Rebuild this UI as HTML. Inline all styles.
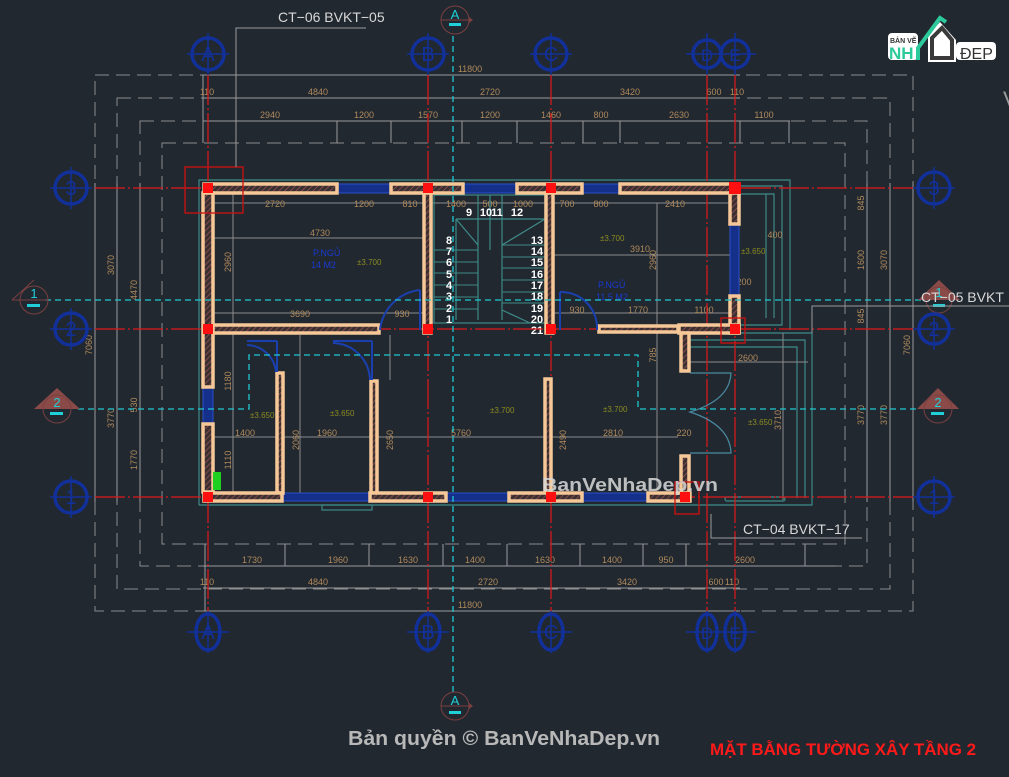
<!DOCTYPE html>
<html><head><meta charset="utf-8"><style>
html,body{margin:0;padding:0;background:#212830;}
svg{display:block}
.d{font-family:"Liberation Sans",sans-serif;font-size:9px;fill:#b08a5c;}
.bub{fill:none;stroke:#12309a;stroke-width:3.5}
.bt{font-family:"Liberation Sans",sans-serif;font-size:20px;fill:#12309a;text-anchor:middle}
.st{font-family:"Liberation Sans",sans-serif;font-size:11px;fill:#fff;font-weight:bold;text-anchor:middle}
</style></head><body>
<svg width="1009" height="777" viewBox="0 0 1009 777" xmlns="http://www.w3.org/2000/svg">
<defs>
<pattern id="h" width="4" height="4" patternUnits="userSpaceOnUse" patternTransform="rotate(45)">
<rect width="4" height="4" fill="#3a3034"/><line x1="0" y1="0" x2="0" y2="4" stroke="#b05a50" stroke-width="1.2"/>
</pattern>
</defs>
<rect width="1009" height="777" fill="#212830"/>

<g fill="none" stroke="#8a8a8a" stroke-width="1" stroke-dasharray="14,7">
<rect x="95" y="75" width="818" height="536"/>
<rect x="117" y="98" width="773" height="491"/>
<rect x="140" y="121" width="727" height="445"/>
<rect x="162" y="143" width="683" height="401"/>
</g>
<g stroke="#9a9a9a" stroke-width="1">
<line x1="203" y1="75" x2="740" y2="75"/><line x1="203" y1="98" x2="740" y2="98"/><line x1="203" y1="121" x2="790" y2="121"/>
<line x1="203" y1="611" x2="740" y2="611"/><line x1="203" y1="588" x2="740" y2="588"/><line x1="203" y1="566" x2="836" y2="566"/>
<line x1="95" y1="183" x2="95" y2="502"/><line x1="117" y1="183" x2="117" y2="502"/><line x1="140" y1="183" x2="140" y2="502"/>
<line x1="913" y1="183" x2="913" y2="502"/><line x1="890" y1="183" x2="890" y2="502"/><line x1="867" y1="183" x2="867" y2="502"/>
<line x1="203" y1="75" x2="203" y2="143"/><line x1="337" y1="121" x2="337" y2="143"/><line x1="391" y1="121" x2="391" y2="143"/><line x1="462" y1="121" x2="462" y2="143"/><line x1="517" y1="121" x2="517" y2="143"/><line x1="583" y1="121" x2="583" y2="143"/><line x1="620" y1="121" x2="620" y2="143"/><line x1="740" y1="121" x2="740" y2="143"/><line x1="789" y1="121" x2="789" y2="143"/>
<line x1="205" y1="544" x2="205" y2="611"/><line x1="285" y1="544" x2="285" y2="566"/><line x1="369" y1="544" x2="369" y2="566"/><line x1="443" y1="544" x2="443" y2="566"/><line x1="507" y1="544" x2="507" y2="566"/><line x1="580" y1="544" x2="580" y2="566"/><line x1="643" y1="544" x2="643" y2="566"/><line x1="686" y1="544" x2="686" y2="566"/><line x1="805" y1="544" x2="805" y2="566"/>
</g>
<g class="d" text-anchor="middle">
<text x="470" y="72">11800</text>
<text x="207" y="95">110</text><text x="318" y="95">4840</text><text x="490" y="95">2720</text><text x="630" y="95">3420</text><text x="714" y="95">600</text><text x="737" y="95">110</text>
<text x="270" y="118">2940</text><text x="364" y="118">1200</text><text x="428" y="118">1570</text><text x="490" y="118">1200</text><text x="551" y="118">1460</text><text x="601" y="118">800</text><text x="679" y="118">2630</text><text x="764" y="118">1100</text>
<text x="252" y="563">1730</text><text x="338" y="563">1960</text><text x="408" y="563">1630</text><text x="475" y="563">1400</text><text x="545" y="563">1630</text><text x="612" y="563">1400</text><text x="666" y="563">950</text><text x="745" y="563">2600</text>
<text x="207" y="585">110</text><text x="318" y="585">4840</text><text x="488" y="585">2720</text><text x="627" y="585">3420</text><text x="716" y="585">600</text><text x="732" y="585">110</text>
<text x="470" y="608">11800</text>
</g>
<g class="d" text-anchor="middle">
<text transform="translate(114,265) rotate(-90)">3070</text><text transform="translate(114,418) rotate(-90)">3770</text>
<text transform="translate(137,290) rotate(-90)">4470</text><text transform="translate(137,460) rotate(-90)">1770</text><text transform="translate(137,405) rotate(-90)">530</text>
<text transform="translate(92,345) rotate(-90)">7060</text>
<text transform="translate(864,203) rotate(-90)">845</text><text transform="translate(864,260) rotate(-90)">1600</text><text transform="translate(864,316) rotate(-90)">845</text><text transform="translate(864,415) rotate(-90)">3770</text>
<text transform="translate(887,260) rotate(-90)">3070</text><text transform="translate(887,415) rotate(-90)">3770</text><text transform="translate(910,345) rotate(-90)">7060</text>
</g>

<g fill="none" stroke="#3e8a88" stroke-width="1.2">
<polyline points="199,505 199,180 790,180 790,330"/>
<polyline points="740,186 782,186 782,325 740,325"/>
<polyline points="740,194 774,194 774,318"/>
<polyline points="766,194 766,318"/>
<polyline points="690,333 812,333 812,505 199,505"/>
<polyline points="690,340 805,340 805,498"/>
<polyline points="690,347 797,347 797,498"/>
<rect x="322" y="505" width="50" height="5"/>
<rect x="725" y="497" width="60" height="4" rx="2"/>
</g>
<g stroke="#8a8a8a" stroke-width="1">
<line x1="214" y1="238" x2="423" y2="238"/><line x1="214" y1="203" x2="735" y2="203"/>
<line x1="214" y1="313" x2="380" y2="313"/><line x1="380" y1="313" x2="423" y2="313"/><line x1="554" y1="313" x2="735" y2="313"/>
<line x1="214" y1="437" x2="678" y2="437"/><line x1="554" y1="255" x2="730" y2="255"/>
<line x1="233" y1="193" x2="233" y2="500"/><line x1="300" y1="335" x2="300" y2="500"/><line x1="390" y1="335" x2="390" y2="380"/>
<line x1="657" y1="203" x2="657" y2="490"/><line x1="690" y1="362" x2="808" y2="362"/><line x1="783" y1="333" x2="783" y2="500"/>
</g>
<g class="d" text-anchor="middle">
<text x="275" y="207">2720</text><text x="364" y="207">1200</text><text x="410" y="207">810</text><text x="456" y="207">1400</text><text x="490" y="207">500</text><text x="523" y="207">1000</text><text x="567" y="207">700</text><text x="601" y="207">800</text><text x="675" y="207">2410</text>
<text x="320" y="236">4730</text><text x="300" y="317">3690</text><text x="402" y="317">930</text><text x="577" y="313">930</text><text x="638" y="313">1770</text><text x="704" y="313">1100</text>
<text x="245" y="436">1400</text><text x="327" y="436">1960</text><text x="461" y="436">5760</text><text x="613" y="436">2810</text><text x="684" y="436">220</text>
<text x="640" y="252">3910</text><text x="748" y="361">2600</text><text x="775" y="238">400</text><text x="744" y="285">200</text>
</g>
<g class="d" text-anchor="middle">
<text transform="translate(231,262) rotate(-90)">2960</text><text transform="translate(231,381) rotate(-90)">1180</text><text transform="translate(231,460) rotate(-90)">1110</text>
<text transform="translate(299,440) rotate(-90)">2060</text><text transform="translate(393,440) rotate(-90)">2650</text><text transform="translate(566,440) rotate(-90)">2490</text><text transform="translate(656,260) rotate(-90)">2960</text><text transform="translate(656,355) rotate(-90)">785</text><text transform="translate(781,420) rotate(-90)">3710</text>
</g>

<g fill="none" stroke="#3e8a88" stroke-width="1.2">
<rect x="434" y="195" width="111" height="128"/>
<line x1="456" y1="219" x2="545" y2="219"/>
<line x1="456" y1="219" x2="456" y2="320"/><line x1="478" y1="195" x2="478" y2="320"/><line x1="490" y1="195" x2="490" y2="250"/><line x1="502" y1="195" x2="502" y2="320"/>
<line x1="456" y1="219" x2="478" y2="245"/><line x1="545" y1="219" x2="502" y2="245"/><line x1="502" y1="310" x2="530" y2="323"/>
<g stroke-width="1">
<line x1="434" y1="250" x2="478" y2="250"/><line x1="434" y1="262" x2="478" y2="262"/><line x1="434" y1="273" x2="478" y2="273"/><line x1="434" y1="285" x2="478" y2="285"/><line x1="434" y1="297" x2="478" y2="297"/><line x1="434" y1="309" x2="478" y2="309"/>
<line x1="502" y1="245" x2="545" y2="245"/><line x1="502" y1="257" x2="545" y2="257"/><line x1="502" y1="268" x2="545" y2="268"/><line x1="502" y1="280" x2="545" y2="280"/><line x1="502" y1="292" x2="545" y2="292"/><line x1="502" y1="303" x2="545" y2="303"/>
</g>
</g>
<g class="st">
<text x="449" y="244">8</text><text x="449" y="255">7</text><text x="449" y="266">6</text><text x="449" y="278">5</text><text x="449" y="289">4</text><text x="449" y="300">3</text><text x="449" y="312">2</text><text x="449" y="323">1</text>
<text x="469" y="216">9</text><text x="486" y="216">10</text><text x="497" y="216">11</text><text x="517" y="216">12</text>
<text x="537" y="244">13</text><text x="537" y="255">14</text><text x="537" y="266">15</text><text x="537" y="278">16</text><text x="537" y="289">17</text><text x="537" y="300">18</text><text x="537" y="312">19</text><text x="537" y="323">20</text><text x="537" y="334">21</text>
</g>

<g stroke="#e01818" stroke-width="1.2" stroke-dasharray="30,3,2,3">
<line x1="208" y1="75" x2="208" y2="612"/><line x1="428" y1="75" x2="428" y2="612"/><line x1="551" y1="75" x2="551" y2="612"/><line x1="707" y1="75" x2="707" y2="612"/><line x1="735" y1="75" x2="735" y2="612"/>
<line x1="95" y1="188" x2="913" y2="188"/><line x1="95" y1="329" x2="913" y2="329"/><line x1="95" y1="497" x2="913" y2="497"/>
</g>

<g fill="#14308a" stroke="#2a50c8" stroke-width="1">
<rect x="338" y="184" width="52" height="9"/><rect x="464" y="184" width="52" height="9"/><rect x="583" y="184" width="36" height="9"/>
<rect x="730" y="225" width="9" height="70"/><rect x="203" y="388" width="10" height="35"/>
<rect x="283" y="493" width="86" height="8"/><rect x="447" y="493" width="61" height="8"/><rect x="583" y="493" width="64" height="8"/>
</g>
<g fill="url(#h)" stroke="#f6c897" stroke-width="3.5">
<rect x="204" y="184" width="133" height="9"/><rect x="391" y="184" width="72" height="9"/><rect x="517" y="184" width="65" height="9"/><rect x="620" y="184" width="119" height="9"/>
<rect x="730" y="193" width="9" height="31"/><rect x="730" y="296" width="9" height="37"/>
<rect x="679" y="325" width="60" height="8"/><rect x="681" y="333" width="8" height="38"/><rect x="599" y="326" width="79" height="6"/>
<rect x="203" y="193" width="10" height="194"/><rect x="203" y="424" width="10" height="68"/>
<rect x="213" y="325" width="166" height="8"/>
<rect x="424" y="193" width="7" height="140"/><rect x="546" y="193" width="7" height="140"/>
<rect x="277" y="373" width="6" height="120"/><rect x="371" y="381" width="6" height="112"/><rect x="545" y="379" width="6" height="114"/><rect x="681" y="456" width="8" height="40"/>
<rect x="204" y="493" width="78" height="8"/><rect x="370" y="493" width="76" height="8"/><rect x="509" y="493" width="73" height="8"/><rect x="648" y="493" width="42" height="8"/>
</g>
<g fill="none" stroke="#1a40b0" stroke-width="2">
<path d="M420,290 A45,45 0 0 0 380,330"/><line x1="420" y1="290" x2="420" y2="330"/>
<path d="M276,372 A30,30 0 0 0 247,345"/><line x1="247" y1="341" x2="277" y2="341"/><line x1="277" y1="341" x2="277" y2="372"/>
<path d="M370,380 A38,38 0 0 0 333,343"/><line x1="333" y1="341" x2="372" y2="341"/><line x1="372" y1="341" x2="372" y2="380"/>
<path d="M560,292 A36,36 0 0 1 597,330"/><line x1="560" y1="292" x2="560" y2="330"/>
</g>
<g fill="none" stroke="#4a8aa0" stroke-width="1.2">
<path d="M690,373 L731,373 Q730,400 690,412 Q730,425 731,453 L690,453"/>
</g>
<g fill="#ff1010">
<rect x="203" y="183" width="10" height="10"/><rect x="423" y="183" width="10" height="10"/><rect x="546" y="183" width="10" height="10"/><rect x="729" y="182" width="12" height="12"/>
<rect x="203" y="324" width="10" height="10"/><rect x="423" y="324" width="10" height="10"/><rect x="546" y="324" width="10" height="10"/><rect x="730" y="324" width="10" height="10"/>
<rect x="203" y="492" width="10" height="10"/><rect x="423" y="492" width="10" height="10"/><rect x="546" y="492" width="10" height="10"/><rect x="680" y="492" width="10" height="10"/>
</g>
<g fill="none" stroke="#d01010" stroke-width="1.3">
<rect x="185" y="167" width="58" height="46"/><rect x="721" y="318" width="24" height="25"/><rect x="675" y="482" width="24" height="32"/>
</g>
<rect x="213" y="472" width="8" height="18" fill="#20d020"/>

<g font-family="Liberation Sans,sans-serif" font-size="9" fill="#1a3ad0">
<text x="313" y="256">P.NGỦ</text><text x="311" y="268">14 M2</text>
<text x="598" y="288">P.NGỦ</text><text x="596" y="300">11.5 M2</text>
</g>
<g font-family="Liberation Sans,sans-serif" font-size="8" fill="#8a8a20">
<text x="357" y="265">±3.700</text><text x="600" y="241">±3.700</text><text x="741" y="254">±3.650</text>
<text x="250" y="418">±3.650</text><text x="330" y="416">±3.650</text><text x="490" y="413">±3.700</text><text x="603" y="412">±3.700</text><text x="748" y="425">±3.650</text>
</g>

<g stroke="#20c8d0" stroke-width="1.3" stroke-dasharray="6,4" fill="none">
<line x1="453" y1="36" x2="453" y2="700"/>
<line x1="45" y1="300" x2="925" y2="300"/>
<polyline points="78,409 249,409 249,355 638,355 638,409 918,409"/>
</g>

<g>
<path d="M455,6 L473,20 L455,34 Z" fill="#7a4040"/><circle cx="455" cy="20" r="14" fill="#212830" stroke="#7a4040"/><line x1="441" y1="20" x2="469" y2="20" stroke="#7a4040"/>
<text x="455" y="19" font-family="Liberation Sans" font-size="13" fill="#20d0d8" text-anchor="middle">A</text><rect x="449" y="23" width="12" height="3" fill="#20d0d8"/>
<path d="M455,692 L473,706 L455,720 Z" fill="#7a4040"/><circle cx="455" cy="706" r="14" fill="#212830" stroke="#7a4040"/><line x1="441" y1="706" x2="469" y2="706" stroke="#7a4040"/>
<text x="455" y="705" font-family="Liberation Sans" font-size="13" fill="#20d0d8" text-anchor="middle">A</text><rect x="449" y="711" width="12" height="3" fill="#20d0d8"/>
<circle cx="34" cy="300" r="14" fill="none" stroke="#7a4040"/><line x1="12" y1="300" x2="34" y2="280" stroke="#7a4040"/><line x1="12" y1="300" x2="48" y2="300" stroke="#7a4040"/>
<text x="34" y="298" font-family="Liberation Sans" font-size="13" fill="#20d0d8" text-anchor="middle">1</text><rect x="27" y="304" width="13" height="3" fill="#20d0d8"/>
<path d="M34,409 L57,388 L80,409 Z" fill="#8a4a48"/><circle cx="57" cy="409" r="14" fill="none" stroke="#7a4040"/>
<text x="57" y="407" font-family="Liberation Sans" font-size="13" fill="#20d0d8" text-anchor="middle">2</text><rect x="50" y="412" width="13" height="3" fill="#20d0d8"/>
<path d="M918,300 L939,280 L960,300 Z" fill="#8a4a48"/><circle cx="939" cy="300" r="13" fill="none" stroke="#7a4040"/>
<text x="939" y="297" font-family="Liberation Sans" font-size="13" fill="#20d0d8" text-anchor="middle">1</text><rect x="933" y="304" width="12" height="3" fill="#20d0d8"/>
<path d="M917,409 L938,388 L959,409 Z" fill="#8a4a48"/><circle cx="938" cy="409" r="14" fill="none" stroke="#7a4040"/>
<text x="938" y="407" font-family="Liberation Sans" font-size="13" fill="#20d0d8" text-anchor="middle">2</text><rect x="931" y="412" width="13" height="3" fill="#20d0d8"/>
</g>

<g>
<g stroke="#12309a" stroke-width="1.5">
<line x1="208" y1="33" x2="208" y2="75"/><line x1="187" y1="54" x2="229" y2="54"/>
<line x1="428" y1="33" x2="428" y2="75"/><line x1="407" y1="54" x2="449" y2="54"/>
<line x1="551" y1="33" x2="551" y2="75"/><line x1="530" y1="54" x2="572" y2="54"/>
<line x1="707" y1="33" x2="707" y2="75"/><line x1="686" y1="54" x2="756" y2="54"/><line x1="735" y1="33" x2="735" y2="75"/>
<line x1="208" y1="611" x2="208" y2="653"/><line x1="187" y1="632" x2="229" y2="632"/>
<line x1="428" y1="611" x2="428" y2="653"/><line x1="407" y1="632" x2="449" y2="632"/>
<line x1="551" y1="611" x2="551" y2="653"/><line x1="530" y1="632" x2="572" y2="632"/>
<line x1="707" y1="611" x2="707" y2="653"/><line x1="686" y1="632" x2="756" y2="632"/><line x1="735" y1="611" x2="735" y2="653"/>
<line x1="50" y1="188" x2="92" y2="188"/><line x1="71" y1="167" x2="71" y2="209"/>
<line x1="50" y1="329" x2="92" y2="329"/><line x1="71" y1="308" x2="71" y2="350"/>
<line x1="50" y1="497" x2="92" y2="497"/><line x1="71" y1="476" x2="71" y2="518"/>
<line x1="913" y1="188" x2="955" y2="188"/><line x1="934" y1="167" x2="934" y2="209"/>
<line x1="913" y1="329" x2="955" y2="329"/><line x1="934" y1="318" x2="934" y2="350"/>
<line x1="913" y1="497" x2="955" y2="497"/><line x1="934" y1="476" x2="934" y2="518"/>
</g>
<g class="bub">
<circle cx="208" cy="54" r="16"/><circle cx="428" cy="54" r="16"/><circle cx="551" cy="54" r="16"/><circle cx="707" cy="54" r="14"/><circle cx="735" cy="54" r="14"/>
<ellipse cx="208" cy="632" rx="12" ry="18"/><ellipse cx="428" cy="632" rx="12" ry="18"/><ellipse cx="551" cy="632" rx="12" ry="18"/><ellipse cx="707" cy="632" rx="10" ry="18"/><ellipse cx="735" cy="632" rx="10" ry="18"/>
<circle cx="71" cy="188" r="16"/><circle cx="71" cy="329" r="16"/><circle cx="71" cy="497" r="16"/>
<circle cx="934" cy="188" r="16"/><circle cx="934" cy="329" r="15"/><circle cx="934" cy="497" r="16"/>
</g>
<g class="bt">
<text x="208" y="61">A</text><text x="428" y="61">B</text><text x="551" y="61">C</text><text x="707" y="61" font-size="17">D</text><text x="735" y="61" font-size="17">E</text>
<text x="208" y="639">A</text><text x="428" y="639">B</text><text x="551" y="639">C</text><text x="707" y="639" font-size="17">D</text><text x="735" y="639" font-size="17">E</text>
<text x="71" y="195">3</text><text x="71" y="336">2</text><text x="71" y="504">1</text>
<text x="934" y="195">3</text><text x="934" y="336">2</text><text x="934" y="504">1</text>
</g>
</g>

<g stroke="#9a9a9a" stroke-width="1" fill="none">
<polyline points="366,28 236,28 236,167"/>
<polyline points="862,538 711,538 711,514"/>
<polyline points="812,333 812,306 1009,306"/>
</g>
<g font-family="Liberation Sans,sans-serif" font-size="14" fill="#d8d8d8">
<text x="278" y="22">CT−06 BVKT−05</text>
<text x="743" y="534">CT−04 BVKT−17</text>
<text x="921" y="302">CT−05 BVKT</text>
</g>
<text x="1003" y="107" font-family="Liberation Sans" font-size="22" fill="#9a9a9a">V</text>

<g>
<rect x="888" y="33" width="30" height="27" rx="4" fill="#fff"/>
<rect x="956" y="42" width="40" height="18" rx="4" fill="#fff"/>
<path d="M928,62 L928,35 L940,22 L956,40 L956,62 Z" fill="#fff"/>
<path d="M932,58 L932,38 L942,28 L952,40 L952,58 Z" fill="none" stroke="#3a3a3a" stroke-width="4"/>
<path d="M918,60 L918,48 L940,18 L946,22" fill="none" stroke="#2cc99a" stroke-width="4"/>
<text x="890" y="43" font-family="Liberation Sans" font-size="7" font-weight="bold" fill="#333">BẢN VẼ</text>
<text x="889" y="59" font-family="Liberation Sans" font-size="17" font-weight="bold" fill="#2cc99a">NH</text>
<text x="960" y="59" font-family="Liberation Sans" font-size="16" fill="#333">ĐẸP</text>
</g>

<text x="542" y="491" font-family="Liberation Sans,sans-serif" font-size="18" font-weight="bold" fill="#d8d8d8" fill-opacity="0.85" textLength="176" lengthAdjust="spacingAndGlyphs">BanVeNhaDep.vn</text>
<text x="348" y="745" font-family="Liberation Sans,sans-serif" font-size="20" font-weight="bold" fill="#b8b8b8" textLength="312" lengthAdjust="spacingAndGlyphs">Bản quyền © BanVeNhaDep.vn</text>
<text x="710" y="755" font-family="Liberation Sans,sans-serif" font-size="17" font-weight="bold" fill="#ff1a1a" textLength="266" lengthAdjust="spacingAndGlyphs">MẶT BẰNG TƯỜNG XÂY TẦNG 2</text>
</svg>
</body></html>
